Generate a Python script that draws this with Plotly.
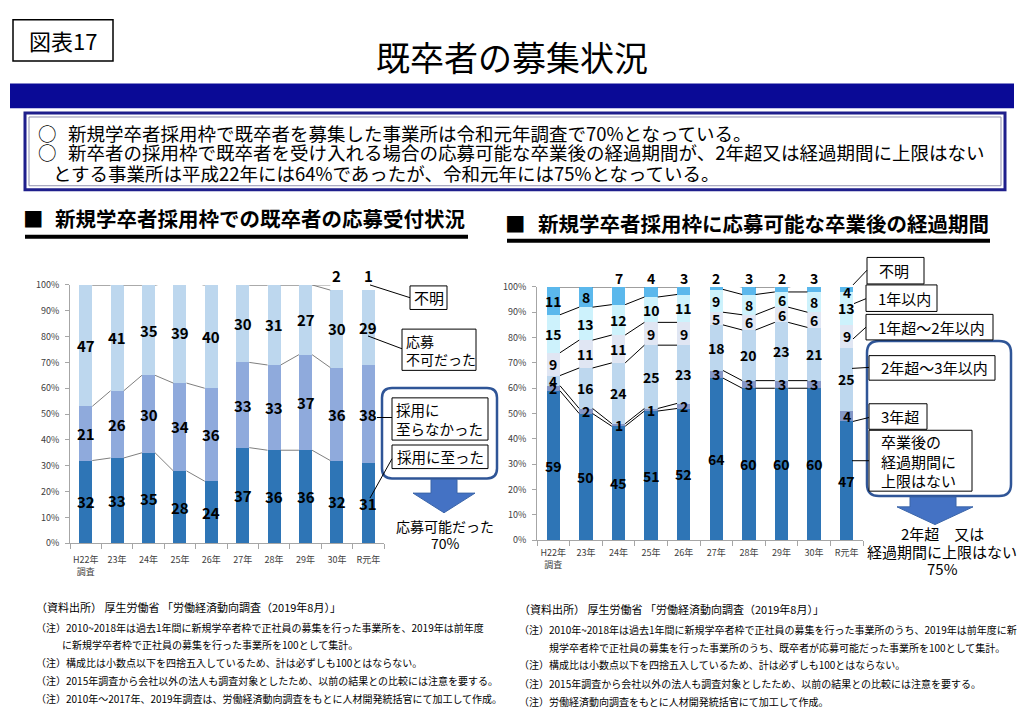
import plotly.graph_objects as go

# ---------------- data ----------------
categories = ["H22年<br>調査", "23年", "24年", "25年", "26年", "27年", "28年", "29年", "30年", "R元年"]

# left chart: 新規学卒者採用枠での既卒者の応募受付状況 (%)
left_hired = [32, 33, 35, 28, 24, 37, 36, 36, 32, 31]          # 採用に至った
left_not_hired = [21, 26, 30, 34, 36, 33, 33, 37, 36, 38]      # 採用に至らなかった
left_not_accepted = [47, 41, 35, 39, 40, 30, 31, 27, 30, 29]   # 応募不可だった
left_unknown = [0, 0, 0, 0, 0, 0, 0, 0, 2, 1]                  # 不明

# right chart: 新規学卒者採用枠に応募可能な卒業後の経過期間 (%)
r_nolimit = [59, 50, 45, 51, 52, 64, 60, 60, 60, 47]   # 卒業後の経過期間に上限はない
r_over3 = [2, 2, 1, 1, 2, 3, 3, 3, 3, 4]               # 3年超
r_2to3 = [4, 16, 24, 25, 23, 18, 20, 23, 21, 25]       # 2年超～3年以内
r_1to2 = [9, 11, 11, 9, 9, 5, 6, 6, 6, 9]              # 1年超～2年以内
r_within1 = [15, 13, 12, 10, 11, 9, 8, 6, 8, 13]       # 1年以内
r_unknown = [11, 8, 7, 4, 3, 2, 3, 2, 3, 4]            # 不明

y_ticks = list(range(0, 101, 10))
y_ticktext = [f"{v}%" for v in y_ticks]

# ---------------- style ----------------
W, H = 1024, 725
FONT = "Noto Sans CJK JP"
BAR_W_L = 0.42
BAR_W_R = 0.41
GROUPS = [(0, 4), (5, 8)]          # series lines drawn inside these groups
R_UNKNOWN_INSIDE = {0, 1, 9}       # 不明 labels drawn inside bar for these


def X(px):
    return px / W


def Y(py):
    return 1 - py / H


fig = go.Figure()
xs = list(range(len(categories)))

left_series = [
    ("採用に至った", left_hired, "#2E75B6"),
    ("採用に至らなかった", left_not_hired, "#8FAADC"),
    ("応募不可だった", left_not_accepted, "#BDD7EE"),
    ("不明", left_unknown, "rgba(255,255,255,0)"),
]
for name, vals, col in left_series:
    fig.add_trace(go.Bar(x=xs, y=vals, name=name, marker=dict(color=col, line=dict(width=0)),
                         width=BAR_W_L, xaxis="x", yaxis="y", showlegend=False, hoverinfo="skip"))

right_series = [
    ("卒業後の経過期間に上限はない", r_nolimit, "#2E75B6"),
    ("3年超", r_over3, "#8496C6"),
    ("2年超～3年以内", r_2to3, "#BDD7EE"),
    ("1年超～2年以内", r_1to2, "#E0E6F3"),
    ("1年以内", r_within1, "#CDF2FC"),
    ("不明", r_unknown, "#5BB8EC"),
]
for name, vals, col in right_series:
    fig.add_trace(go.Bar(x=xs, y=vals, name=name, marker=dict(color=col, line=dict(width=0)),
                         width=BAR_W_R, xaxis="x2", yaxis="y2", showlegend=False, hoverinfo="skip"))


def cumulative(series_list):
    out = []
    run = [0] * len(categories)
    for vals in series_list:
        run = [a + b for a, b in zip(run, vals)]
        out.append(list(run))
    return out


def add_series_lines(cums, w, xa, ya, color):
    for cum in cums:
        sx, sy = [], []
        for g0, g1 in GROUPS:
            for i in range(g0, g1):
                sx += [i + w / 2, i + 1 - w / 2, None]
                sy += [cum[i], cum[i + 1], None]
        fig.add_trace(go.Scatter(x=sx, y=sy, mode="lines", line=dict(color=color, width=1),
                                 xaxis=xa, yaxis=ya, showlegend=False, hoverinfo="skip"))


left_cums = cumulative([left_hired, left_not_hired, left_not_accepted, left_unknown])
add_series_lines(left_cums, BAR_W_L, "x", "y", "#7F7F7F")
right_cums = cumulative([r_nolimit, r_over3, r_2to3, r_1to2, r_within1, r_unknown])
add_series_lines(right_cums, BAR_W_R, "x2", "y2", "#000000")

annotations = []
shapes = []

# segment labels (left)
lvals = [left_hired, left_not_hired, left_not_accepted]
for k, vals in enumerate(lvals):
    for i, v in enumerate(vals):
        c = left_cums[k][i] - v / 2
        annotations.append(dict(x=i, y=c, xref="x", yref="y", text=f"<b>{v}</b>", showarrow=False,
                                font=dict(size=15, color="black", family=FONT)))
for i, v in enumerate(left_unknown):
    if v > 0:
        annotations.append(dict(x=i, y=100, xref="x", yref="y", text=f"<b>{v}</b>", showarrow=False,
                                yanchor="bottom", yshift=-3, font=dict(size=15, color="black", family=FONT)))

# segment labels (right)
rvals = [r_nolimit, r_over3, r_2to3, r_1to2, r_within1, r_unknown]
for k, vals in enumerate(rvals):
    for i, v in enumerate(vals):
        if k == 5 and i not in R_UNKNOWN_INSIDE:
            annotations.append(dict(x=i, y=100, xref="x2", yref="y2", text=f"<b>{v}</b>", showarrow=False,
                                    yanchor="bottom", yshift=-3, font=dict(size=14, color="black", family=FONT)))
        else:
            c = min(right_cums[k][i] - v / 2, 98)
            annotations.append(dict(x=i, y=c, xref="x2", yref="y2", text=f"<b>{v}</b>", showarrow=False,
                                    font=dict(size=14, color="black", family=FONT)))


def text(t, x, y, size, xanchor="left", yanchor="middle", color="black", align="left"):
    annotations.append(dict(text=t, x=X(x), y=Y(y), xref="paper", yref="paper", showarrow=False,
                            xanchor=xanchor, yanchor=yanchor, align=align, borderpad=0,
                            font=dict(size=size, color=color, family=FONT)))


def rect(x0, y0, x1, y1, lc="black", lw=1, fill="white"):
    shapes.append(dict(type="rect", xref="paper", yref="paper", x0=X(x0), x1=X(x1), y0=Y(y0), y1=Y(y1),
                       line=dict(color=lc, width=lw), fillcolor=fill, layer="above"))


def line(x0, y0, x1, y1, lc="black", lw=1):
    shapes.append(dict(type="line", xref="paper", yref="paper", x0=X(x0), x1=X(x1), y0=Y(y0), y1=Y(y1),
                       line=dict(color=lc, width=lw), layer="above"))


def rrect(x0, y0, x1, y1, r, lc, lw):
    p = (f"M {X(x0+r)} {Y(y0)} L {X(x1-r)} {Y(y0)} Q {X(x1)} {Y(y0)} {X(x1)} {Y(y0+r)} "
         f"L {X(x1)} {Y(y1-r)} Q {X(x1)} {Y(y1)} {X(x1-r)} {Y(y1)} "
         f"L {X(x0+r)} {Y(y1)} Q {X(x0)} {Y(y1)} {X(x0)} {Y(y1-r)} "
         f"L {X(x0)} {Y(y0+r)} Q {X(x0)} {Y(y0)} {X(x0+r)} {Y(y0)} Z")
    shapes.append(dict(type="path", xref="paper", yref="paper", path=p,
                       line=dict(color=lc, width=lw), fillcolor="white", layer="above"))


def arrow(sx0, sx1, top, hy, hx0, hx1, tipx, tipy, col="#4472C4"):
    pts = [(sx0, top), (sx1, top), (sx1, hy), (hx1, hy), (tipx, tipy), (hx0, hy), (sx0, hy)]
    p = "M " + " L ".join(f"{X(a)} {Y(b)}" for a, b in pts) + " Z"
    shapes.append(dict(type="path", xref="paper", yref="paper", path=p,
                       line=dict(color="#3A64A8", width=1), fillcolor=col, layer="above"))


# ---------- header ----------
rect(13, 13, 113, 55, "black", 1.5)
text("図表17", 63, 34, 22, xanchor="center")
text("既卒者の募集状況", 512, 50, 34, xanchor="center")
shapes.append(dict(type="rect", xref="paper", yref="paper", x0=X(10), x1=X(1014), y0=Y(103), y1=Y(78),
                   line=dict(width=0), fillcolor="#0A0A96", layer="above"))
rect(25, 108, 1005, 186, "#1F1F8C", 3)
rect(29, 112, 1001, 182, "#9090B0", 1, fill="rgba(0,0,0,0)")
text("○", 37, 128, 18.5)
text("新規学卒者採用枠で既卒者を募集した事業所は令和元年調査で70%となっている。", 67, 128, 18.5)
text("○", 37, 148, 18.5)
text("新卒者の採用枠で既卒者を受け入れる場合の応募可能な卒業後の経過期間が、2年超又は経過期間に上限はない", 67, 148, 18.5)
text("とする事業所は平成22年には64%であったが、令和元年には75%となっている。", 52, 169, 18.5)

# section titles
text("<b>■</b>", 22, 215, 20.5)
text("<b>新規学卒者採用枠での既卒者の応募受付状況</b>", 54, 215, 20.5)
rect(25, 232, 468, 236, "black", 0, fill="black")
text("<b>■</b>", 504, 220, 20.5)
text("<b>新規学卒者採用枠に応募可能な卒業後の経過期間</b>", 537, 220, 20.5)
rect(507, 236, 990, 240, "black", 0, fill="black")

# ---------- left chart callouts ----------
rrect(382, 388, 497, 480, 10, "#2F5597", 2.5)
rect(410, 284, 447, 308)
text("不明", 428.5, 296, 15, xanchor="center")
rect(402, 328, 476, 370)
text("応募<br>不可だった", 405, 349, 14)
rect(392, 398, 488, 441)
text("採用に<br>至らなかった", 395, 419.5, 14.5)
rect(392, 446, 488, 470)
text("採用に至った", 440, 458, 14.5, xanchor="center")
arrow(431, 457, 481, 495, 413, 475, 444, 515)
text("応募可能だった", 445, 528, 14, xanchor="center")
text("70%", 445, 546, 14, xanchor="center")
line(370, 283, 410, 296)
line(368, 335, 402, 348)
line(377, 418, 392, 418)
line(370, 500, 392, 460)

# ---------- right chart callouts ----------
rrect(867, 340, 1011, 498, 12, "#2F5597", 2.5)
rect(867, 255, 924, 282)
text("不明", 878, 268.5, 15)
rect(866, 283, 937, 310)
text("1年以内", 877, 296.5, 15)
rect(866, 313, 993, 339)
text("1年超～2年以内", 877, 326, 15)
rect(869, 355, 995, 380)
text("2年超～3年以内", 880, 367.5, 15)
rect(869, 404, 927, 430)
text("3年超", 880, 417, 15)
rect(869, 431, 972, 493)
text("卒業後の<br>経過期間に<br>上限はない", 880, 462, 15)
arrow(910, 956, 499, 509, 897, 973, 935, 527)
text("2年超　又は", 942, 536, 15, xanchor="center")
text("経過期間に上限はない", 942, 554, 15, xanchor="center")
text("75%", 942, 572, 15, xanchor="center")
line(853, 283, 867, 268)
line(854, 302, 866, 297)
line(853, 338, 866, 326)
line(852, 368, 869, 367)
line(853, 422, 869, 418)
line(852, 462, 869, 462)

# ---------- footnotes ----------
text("（資料出所） 厚生労働省 「労働経済動向調査（2019年8月）」", 35, 611, 11)
text("（注）2010~2018年は過去1年間に新規学卒者枠で正社員の募集を行った事業所を、2019年は前年度", 35, 632, 10)
text("に新規学卒者枠で正社員の募集を行った事業所を100として集計。", 61, 649, 10)
text("（注）構成比は小数点以下を四捨五入しているため、計は必ずしも100とはならない。", 35, 667, 10)
text("（注）2015年調査から会社以外の法人も調査対象としたため、以前の結果との比較には注意を要する。", 35, 686, 10)
text("（注）2010年～2017年、2019年調査は、労働経済動向調査をもとに人材開発統括官にて加工して作成。", 35, 704, 10)

text("（資料出所） 厚生労働省 「労働経済動向調査（2019年8月）」", 518, 613, 11)
text("（注）2010年~2018年は過去1年間に新規学卒者枠で正社員の募集を行った事業所のうち、2019年は前年度に新", 518, 634, 10)
text("規学卒者枠で正社員の募集を行った事業所のうち、既卒者が応募可能だった事業所を100として集計。", 548, 652, 10)
text("（注）構成比は小数点以下を四捨五入しているため、計は必ずしも100とはならない。", 518, 670, 10)
text("（注）2015年調査から会社以外の法人も調査対象としたため、以前の結果との比較には注意を要する。", 518, 689, 10)
text("（注）労働経済動向調査をもとに人材開発統括官にて加工して作成。", 518, 707, 10)

# ---------- axes ----------
tickfont = dict(size=9, color="#404040", family=FONT)
xcommon = dict(range=[-0.5, len(categories) - 0.5], tickmode="array", tickvals=xs, ticktext=categories,
               ticks="", showline=True, linecolor="#A6A6A6", linewidth=1, showgrid=False, zeroline=False,
               tickfont=tickfont, fixedrange=True,
               minor=dict(tickmode="array", tickvals=[i - 0.5 for i in range(len(categories) + 1)],
                          ticks="outside", ticklen=5, tickcolor="#A6A6A6", showgrid=False))
ycommon = dict(range=[0, 100], tickmode="array", tickvals=y_ticks, ticktext=y_ticktext, ticks="outside",
               ticklen=4, tickcolor="#A6A6A6", showline=True, linecolor="#A6A6A6", linewidth=1,
               showgrid=False, zeroline=False, tickfont=tickfont, fixedrange=True)

fig.update_layout(
    width=W, height=H, margin=dict(l=0, r=0, t=0, b=0),
    paper_bgcolor="white", plot_bgcolor="white",
    barmode="stack", bargap=0, showlegend=False,
    xaxis=dict(domain=[X(70), X(384)], anchor="y", ticklabelstandoff=8, **xcommon),
    yaxis=dict(domain=[Y(546), Y(283)], anchor="x", ticklabelstandoff=4, **ycommon),
    xaxis2=dict(domain=[X(537), X(863)], anchor="y2", ticklabelstandoff=4, **xcommon),
    yaxis2=dict(domain=[Y(543), Y(285)], anchor="x2", ticklabelstandoff=4, **ycommon),
    annotations=annotations, shapes=shapes,
    font=dict(family=FONT),
)

fig.write_html("out.html", config={"displayModeBar": False})

# remove the default page margin so the 1024x725 figure fills the window exactly
with open("out.html", encoding="utf-8") as f:
    html = f.read()
html = html.replace("<body>", '<body style="margin:0;overflow:hidden">', 1)
with open("out.html", "w", encoding="utf-8") as f:
    f.write(html)
